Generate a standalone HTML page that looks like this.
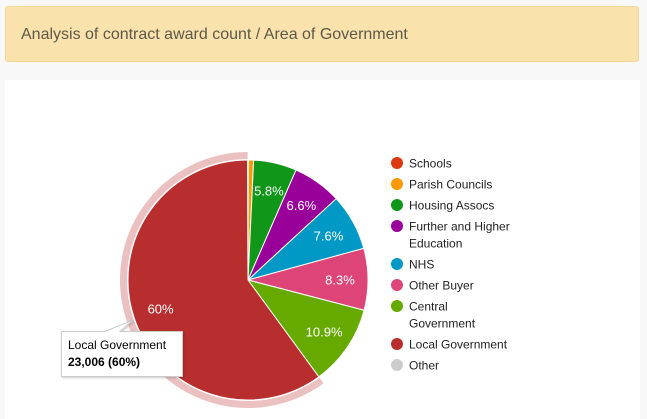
<!DOCTYPE html>
<html><head><meta charset="utf-8"><style>
body{margin:0;width:647px;height:419px;background:#f8f8f8;font-family:"Liberation Sans",Arial,sans-serif;overflow:hidden;position:relative}
#hdr{position:absolute;left:5px;top:6px;width:634px;height:56px;background:#f9e2ac;border:1px solid #f3d79b;border-radius:3px;box-sizing:border-box}
#hdr span{position:absolute;left:15px;top:19px;font-size:16px;color:#5d5848}
#card{position:absolute;left:5px;top:80px;width:635px;height:339px;background:#fff}
svg{position:absolute;left:0;top:0}
</style></head><body>
<div id="hdr"><span>Analysis of contract award count / Area of Government</span></div>
<div id="card"></div>
<svg id="chart" width="647" height="419"></svg>
<script>
const categories=["Schools","Parish Councils","Housing Assocs","Further and Higher Education","NHS","Other Buyer","Central Government","Local Government","Other"];
const values=[0.05,0.7,5.8,6.6,7.6,8.3,10.9,60,0.05];
const colors=["#dc3912","#ff9900","#109618","#990099","#0099c6","#dd4477","#66aa00","#b82e2e","#cccccc"];
const legendLines=[["Schools"],["Parish Councils"],["Housing Assocs"],["Further and Higher","Education"],["NHS"],["Other Buyer"],["Central","Government"],["Local Government"],["Other"]];
const highlight=7;
const NS="http://www.w3.org/2000/svg";
const svg=document.getElementById("chart");
const cx=248,cy=280,r=120;
function mk(t,a){const e=document.createElementNS(NS,t);for(const k in a)e.setAttribute(k,a[k]);return e;}
function pt(ang,rad){return [cx+rad*Math.sin(ang),cy-rad*Math.cos(ang)];}
function arc(a0,a1,r0,r1){const l=(a1-a0)>Math.PI?1:0;const p0=pt(a0,r1),p1=pt(a1,r1);
 if(r0===0)return `M${cx},${cy}L${p0[0]},${p0[1]}A${r1},${r1} 0 ${l} 1 ${p1[0]},${p1[1]}Z`;
 const q0=pt(a1,r0),q1=pt(a0,r0);
 return `M${p0[0]},${p0[1]}A${r1},${r1} 0 ${l} 1 ${p1[0]},${p1[1]}L${q0[0]},${q0[1]}A${r0},${r0} 0 ${l} 0 ${q1[0]},${q1[1]}Z`;}
const total=values.reduce((a,b)=>a+b,0);
let a=0;const angs=[];
values.forEach(v=>{const s=a;a+=v/total*2*Math.PI;angs.push([s,a]);});
// highlight ring
{const [s,e]=angs[highlight];const ring=mk("path",{d:arc(s,e,r+1,r+8),fill:"#b82e2e","fill-opacity":"0.3"});


svg.appendChild(ring);}
values.forEach((v,i)=>{const [s,e]=angs[i];
 const p=mk("path",{d:arc(s,e,0,r),fill:colors[i],stroke:"#fff","stroke-width":"1"});
 
 
 svg.appendChild(p);
 const pct=v/total*100;
 if(pct>5){const m=(s+e)/2;const [x,y]=pt(m,92);
  const t=mk("text",{x:x,y:y+5,"text-anchor":"middle","font-size":"13",fill:"#fff"});
  t.textContent=pct>=20?Math.round(pct)+"%":pct.toFixed(1)+"%";
  
  
  svg.appendChild(t);}
});
// legend
let ly=163;
legendLines.forEach((lines,i)=>{
 const g=mk("g",{});
 
 
 g.appendChild(mk("circle",{cx:397,cy:ly,r:6,fill:colors[i]}));
 lines.forEach((ln,j)=>{const t=mk("text",{x:409,y:ly+4.5+j*17,"font-size":"12",fill:"#222"});t.textContent=ln;g.appendChild(t);});
 svg.appendChild(g);
 ly+=21+(lines.length-1)*17;
});
// tooltip
const tg=mk("g",{});


tg.appendChild(mk("path",{d:"M61.5,331.5H105L133,320L120,331.5H182.5V376.5H61.5Z",fill:"#fff",stroke:"#ccc","stroke-width":"1",filter:"drop-shadow(1px 1px 1px rgba(0,0,0,0.2))"}));
const t1=mk("text",{x:68,y:349,"font-size":"12",fill:"#000"});t1.textContent="Local Government";tg.appendChild(t1);
const t2=mk("text",{x:68,y:366,"font-size":"12","font-weight":"bold",fill:"#000"});t2.textContent="23,006 (60%)";tg.appendChild(t2);
svg.appendChild(tg);
</script>
</body></html>
